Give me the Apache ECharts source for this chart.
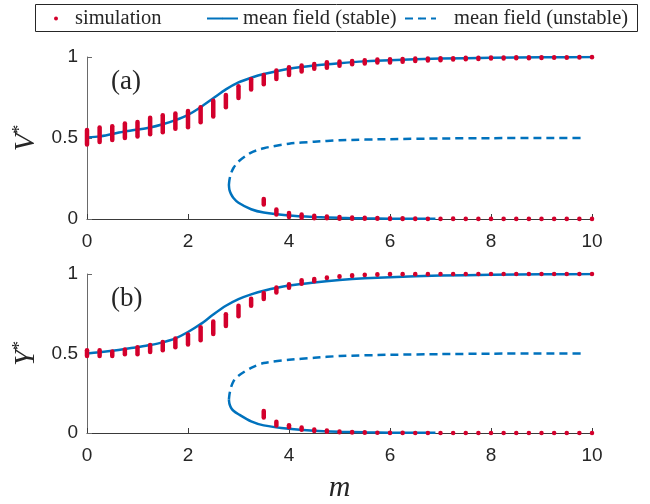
<!DOCTYPE html>
<html>
<head>
<meta charset="utf-8">
<script src="https://cdn.jsdelivr.net/npm/echarts@6/dist/echarts.min.js"></script>
<style>
html,body{margin:0;padding:0;background:#fff;}
#chart{width:650px;height:504px;}
</style>
</head>
<body>
<div id="chart"></div>
<script>
// ---------- DATA ----------
const xTicks = [0, 2, 4, 6, 8, 10];
const yTicks = [0, 0.5, 1];

// simulation: m values (upper branch)
const simM = [0,0.25,0.5,0.75,1,1.25,1.5,1.75,2,2.25,2.5,2.75,3,3.25,3.5,3.75,4,4.25,4.5,4.75,5,5.25,5.5,5.75,6,6.25,6.5,6.75,7,7.25,7.5,7.75,8,8.25,8.5,8.75,9,9.25,9.5,9.75,10];
// panel (a) upper branch spread (low / high)
const simLoA = [0.46,0.475,0.488,0.5,0.51,0.523,0.536,0.557,0.567,0.597,0.632,0.69,0.747,0.8,0.832,0.864,0.889,0.91,0.928,0.934,0.946,0.955,0.96,0.966,0.966,0.97,0.975,0.978,0.98,0.984,0.986,0.988,0.99,0.991,0.992,0.993,0.994,0.995,0.996,0.997,0.998];
const simHiA = [0.55,0.565,0.572,0.59,0.598,0.625,0.64,0.652,0.666,0.69,0.73,0.765,0.82,0.862,0.889,0.917,0.936,0.947,0.957,0.967,0.972,0.976,0.98,0.984,0.986,0.988,0.99,0.991,0.992,0.993,0.995,0.996,0.997,0.997,0.998,0.998,0.999,0.999,0.999,1.0,1.0];
// panel (b) upper branch spread
const simLoB = [0.485,0.485,0.485,0.495,0.495,0.51,0.52,0.54,0.556,0.583,0.623,0.673,0.735,0.8,0.843,0.883,0.914,0.939,0.955,0.975,0.982,0.988,0.993,0.996,0.998,0.999,0.999,0.999,1,1,1,1,1,1,1,1,1,1,1,1,1];
const simHiB = [0.52,0.52,0.513,0.525,0.54,0.553,0.573,0.594,0.62,0.665,0.702,0.747,0.8,0.845,0.88,0.915,0.935,0.961,0.968,0.978,0.986,0.992,0.996,0.998,1,1,1,1,1,1,1,1,1,1,1,1,1,1,1,1,1];

// simulation: m values (lower branch)
const simLowM = [3.5,3.75,4,4.25,4.5,4.75,5,5.25,5.5,5.75,6,6.25,6.5,6.75,7,7.25,7.5,7.75,8,8.25,8.5,8.75,9,9.25,9.5,9.75,10];
const simLowLoA = [0.09,0.028,0.012,0.008,0.005,0.004,0.002,0.002,0.001,0.001,0,0,0,0,0,0,0,0,0,0,0,0,0,0,0,0,0];
const simLowHiA = [0.123,0.058,0.037,0.028,0.02,0.016,0.012,0.01,0.008,0.006,0.005,0.004,0.003,0.002,0.002,0.003,0.001,0.001,0.001,0.001,0.001,0.001,0.001,0.001,0.001,0.001,0.001];
const simLowLoB = [0.098,0.047,0.036,0.02,0.012,0.008,0.005,0.003,0.002,0.001,0,0,0,0,0,0,0,0,0,0,0,0,0,0,0,0,0];
const simLowHiB = [0.139,0.07,0.049,0.035,0.022,0.016,0.01,0.007,0.004,0.002,0.001,0.001,0,0,0,0,0,0,0,0,0,0,0,0,0,0,0];

// mean field, stable upper branch
const upM = [0,0.25,0.5,0.75,1,1.25,1.5,1.75,2,2.25,2.5,2.75,3,3.25,3.5,4,4.5,5,5.5,6,7,8,9,10];
const upA = [0.503,0.51,0.525,0.54,0.552,0.565,0.585,0.61,0.643,0.69,0.745,0.8,0.843,0.872,0.895,0.928,0.948,0.962,0.973,0.98,0.99,0.995,0.998,1.0];
const upB = [0.5,0.508,0.517,0.528,0.54,0.553,0.57,0.595,0.635,0.685,0.745,0.8,0.842,0.872,0.895,0.927,0.947,0.962,0.973,0.98,0.99,0.995,0.998,1.0];

// mean field, stable lower branch
const lowM = [2.81,2.82,2.85,2.9,3,3.25,3.5,4,4.5,5,5.5,6,6.5,6.9];
const lowA = [0.21,0.18,0.155,0.13,0.1,0.06,0.04,0.022,0.013,0.007,0.004,0.002,0.001,0.001];
const lowB = [0.21,0.185,0.16,0.14,0.118,0.073,0.048,0.026,0.014,0.008,0.004,0.002,0.001,0.001];

// mean field, unstable branch
const unsM = [2.81,2.82,2.85,2.9,3,3.25,3.5,4,4.5,5,6,7,8,9,9.85];
const unsA = [0.21,0.24,0.28,0.315,0.355,0.41,0.437,0.465,0.477,0.486,0.493,0.497,0.499,0.5,0.5];
const unsB = [0.21,0.24,0.285,0.325,0.36,0.41,0.44,0.46,0.473,0.484,0.492,0.496,0.499,0.5,0.5];

const names = ['simulation', 'mean field (stable)', 'mean field (unstable)'];
const panelLabels = ['(a)', '(b)'];

// ---------- STYLE ----------
const RED = '#d3002c';
const BLUE = '#0072BD';
const INK = '#262626';
const SERIF = '"Liberation Serif", "Times New Roman", serif';
const SANS = '"Liberation Sans", Arial, sans-serif';

const zip = (a, b) => a.map((v, i) => [v, b[i]]);
const zip3 = (a, b, c) => a.map((v, i) => [v, b[i], c[i]]);

function stripeItem(params, api) {
  const x = api.value(0);
  const top = api.coord([x, api.value(2)]);
  const bot = api.coord([x, api.value(1)]);
  const w = 4.5;
  return {
    type: 'rect',
    shape: { x: top[0] - w / 2, y: top[1] - w / 2, width: w, height: bot[1] - top[1] + w, r: w / 2 },
    style: { fill: RED }
  };
}

function xAxis(idx, withName) {
  return {
    type: 'value', gridIndex: idx, min: 0, max: 10, interval: 2,
    axisLine: { show: true, lineStyle: { color: '#3a3a3a', width: 1 } },
    axisTick: { show: true, inside: true, length: 5, lineStyle: { color: '#3a3a3a' } },
    axisLabel: { color: INK, fontFamily: SANS, fontSize: 19, margin: 13 },
    splitLine: { show: false },
    name: withName ? 'm' : '',
    nameLocation: 'middle', nameGap: 40,
    nameTextStyle: { fontFamily: SERIF, fontStyle: 'italic', fontSize: 30, color: INK }
  };
}
function yAxis(idx, letter) {
  return {
    type: 'value', gridIndex: idx, min: 0, max: 1, interval: 0.5,
    axisLine: { show: true, lineStyle: { color: '#6a6a6a', width: 1 } },
    axisTick: { show: true, inside: true, length: 5, lineStyle: { color: '#6a6a6a' } },
    axisLabel: { color: INK, fontFamily: SANS, fontSize: 19, margin: 9 },
    splitLine: { show: false },
    name: '{v|' + letter + '}{s|*}',
    nameLocation: 'middle', nameRotate: 90, nameGap: 44,
    nameTextStyle: {
      color: INK,
      rich: {
        v: { fontFamily: SERIF, fontStyle: 'italic', fontSize: 29, color: INK, lineHeight: 30 },
        s: { fontFamily: SERIF, fontSize: 18, color: INK, verticalAlign: 'top', lineHeight: 30 }
      }
    }
  };
}

function lineSeries(name, idx, data, dashed) {
  return {
    name: name, type: 'line', xAxisIndex: idx, yAxisIndex: idx,
    data: data, symbol: 'none', smooth: 0.25, z: 2,
    lineStyle: { color: BLUE, width: 2.5, type: dashed ? [8, 5] : 'solid' },
    itemStyle: { color: BLUE }
  };
}
function simSeries(idx, data) {
  return {
    name: names[0], type: 'custom', xAxisIndex: idx, yAxisIndex: idx,
    data: data, encode: { x: 0, y: [1, 2] }, renderItem: stripeItem, clip: false, z: 5,
    itemStyle: { color: RED }
  };
}

const chart = echarts.init(document.getElementById('chart'), null, { renderer: 'canvas' });
const legendText = { fontFamily: SERIF, fontSize: 20.5, color: INK };
const legendBase = { top: 8, padding: 0, itemHeight: 4, orient: 'horizontal', selectedMode: false };
chart.setOption({
  animation: false,
  backgroundColor: '#fff',
  graphic: [
    { type: 'rect', z: 0, shape: { x: 35.5, y: 4.5, width: 602, height: 27 },
      style: { fill: '#fff', stroke: INK, lineWidth: 1 } },
    { type: 'text', left: 111, top: 68, z: 10,
      style: { text: panelLabels[0], font: '27px ' + SERIF, fill: INK } },
    { type: 'text', left: 111, top: 285, z: 10,
      style: { text: panelLabels[1], font: '27px ' + SERIF, fill: INK } }
  ],
  legend: [
    Object.assign({}, legendBase, { left: 54, itemWidth: 28, data: [{ name: names[0], icon: 'circle' }],
      textStyle: legendText }),
    Object.assign({}, legendBase, { left: 206, itemWidth: 31, itemHeight: 2, data: [names[1]],
      textStyle: legendText }),
    Object.assign({}, legendBase, { left: 404, itemWidth: 31, itemHeight: 2, data: [names[2]],
      textStyle: Object.assign({}, legendText, { padding: [0, 0, 0, 13] }) })
  ],
  grid: [
    { left: 87, width: 505, top: 57, height: 162 },
    { left: 87, width: 505, top: 274, height: 163 }
  ],
  xAxis: [xAxis(0, false), xAxis(1, true)],
  yAxis: [yAxis(0, 'V'), yAxis(1, 'Y')],
  series: [
    lineSeries(names[1], 0, zip(upM, upA), false),
    lineSeries(names[1], 0, zip(lowM, lowA), false),
    lineSeries(names[2], 0, zip(unsM, unsA), true),
    simSeries(0, zip3(simM, simLoA, simHiA)),
    simSeries(0, zip3(simLowM, simLowLoA, simLowHiA)),
    lineSeries(names[1], 1, zip(upM, upB), false),
    lineSeries(names[1], 1, zip(lowM, lowB), false),
    lineSeries(names[2], 1, zip(unsM, unsB), true),
    simSeries(1, zip3(simM, simLoB, simHiB)),
    simSeries(1, zip3(simLowM, simLowLoB, simLowHiB))
  ]
});
</script>
</body>
</html>
